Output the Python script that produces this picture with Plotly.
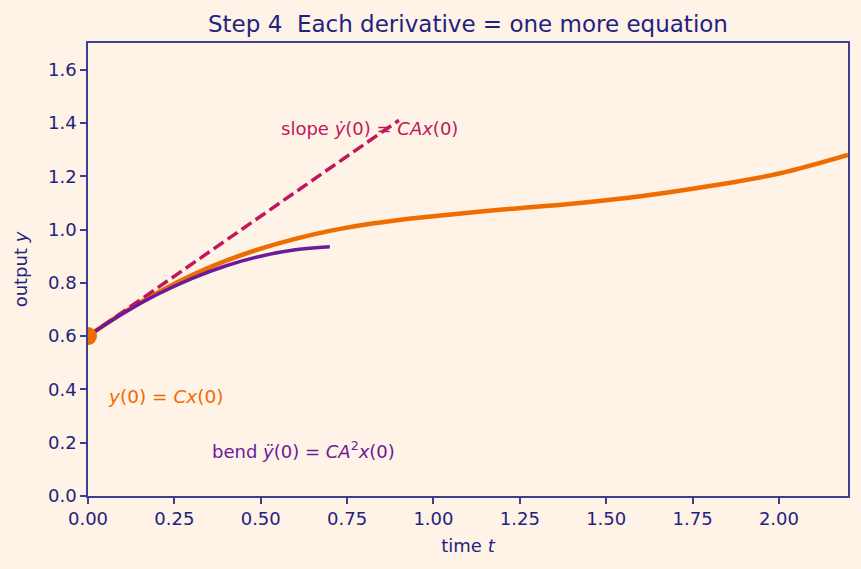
import plotly.graph_objects as go

# Output trajectory y(t)
t_out = [0.0, 0.1, 0.2, 0.3, 0.4, 0.5, 0.6, 0.7, 0.8, 0.9, 1.0, 1.2, 1.4, 1.6, 1.8, 2.0, 2.2]
y_out = [0.600, 0.686, 0.762, 0.828, 0.883, 0.928, 0.965, 0.995, 1.018, 1.036, 1.050,
         1.075, 1.097, 1.125, 1.163, 1.210, 1.280]

# Tangent (slope) line
t_slope = [0.0, 0.9]
y_slope = [0.600, 1.410]

# Second-order (bend) approximation
t_bend = [0.0, 0.1, 0.2, 0.3, 0.4, 0.5, 0.6, 0.7]
y_bend = [0.600, 0.684, 0.756, 0.816, 0.864, 0.900, 0.924, 0.935]

# Initial point
t0 = [0.0]
y0 = [0.6]

x_ticks = [0.0, 0.25, 0.5, 0.75, 1.0, 1.25, 1.5, 1.75, 2.0]
x_tick_labels = ["0.00", "0.25", "0.50", "0.75", "1.00", "1.25", "1.50", "1.75", "2.00"]
y_ticks = [0.0, 0.2, 0.4, 0.6, 0.8, 1.0, 1.2, 1.4, 1.6]
y_tick_labels = ["0.0", "0.2", "0.4", "0.6", "0.8", "1.0", "1.2", "1.4", "1.6"]

NAVY = "#1f2380"
AXIS = "#3f3f8f"
ORANGE = "#ef6c00"
PURPLE = "#6a1b9a"
CRIMSON = "#c2185b"
BG = "#fff2e6"
FONT = "DejaVu Sans"

fig = go.Figure()
fig.add_trace(go.Scatter(x=t_out, y=y_out, mode="lines",
                         line=dict(color=ORANGE, width=4.5, shape="spline", smoothing=1.0),
                         hoverinfo="skip"))
fig.add_trace(go.Scatter(x=t_slope, y=y_slope, mode="lines",
                         line=dict(color=CRIMSON, width=3.5, dash="12px,5px"),
                         hoverinfo="skip"))
fig.add_trace(go.Scatter(x=t_bend, y=y_bend, mode="lines",
                         line=dict(color=PURPLE, width=3.5, shape="spline", smoothing=1.0),
                         hoverinfo="skip"))
fig.add_trace(go.Scatter(x=t0, y=y0, mode="markers",
                         marker=dict(color=ORANGE, size=18), cliponaxis=True,
                         hoverinfo="skip"))

fig.add_annotation(x=0.553, y=1.38, xref="x", yref="y", xanchor="left", yanchor="middle",
                   text="slope <i>ẏ</i>(0) = <i>CAx</i>(0)", showarrow=False,
                   font=dict(family=FONT, size=18, color=CRIMSON))
fig.add_annotation(x=0.052, y=0.374, xref="x", yref="y", xanchor="left", yanchor="middle",
                   text="<i>y</i>(0) = <i>Cx</i>(0)", showarrow=False,
                   font=dict(family=FONT, size=18.5, color=ORANGE))
fig.add_annotation(x=0.353, y=0.174, xref="x", yref="y", xanchor="left", yanchor="middle",
                   text="bend <i>ÿ</i>(0) = <i>CA</i><sup>2</sup><i>x</i>(0)", showarrow=False,
                   font=dict(family=FONT, size=18, color=PURPLE))

axis_common = dict(showline=True, linecolor=AXIS, linewidth=1.5, mirror=True,
                   ticks="outside", ticklen=6, tickwidth=1.5, tickcolor=AXIS,
                   showgrid=False, zeroline=False,
                   tickfont=dict(family=FONT, size=18, color=NAVY))

fig.update_xaxes(range=[0, 2.2], tickvals=x_ticks, ticktext=x_tick_labels,
                 title=dict(text="time <i>t</i>", font=dict(family=FONT, size=18, color=NAVY),
                            standoff=11),
                 **axis_common)
fig.update_yaxes(range=[0, 1.7], tickvals=y_ticks, ticktext=y_tick_labels,
                 title=dict(text="output <i>y</i>", font=dict(family=FONT, size=18, color=NAVY),
                            standoff=16),
                 **axis_common)

fig.update_layout(
    width=861, height=569,
    margin=dict(l=88, r=13, t=43, b=73),
    paper_bgcolor=BG, plot_bgcolor=BG,
    showlegend=False,
    title=dict(text="Step 4  Each derivative = one more equation",
               x=0.5435, xanchor="center", y=0.958, yanchor="middle",
               font=dict(family=FONT, size=23, color=NAVY)),
)

fig.write_html("out.html")
